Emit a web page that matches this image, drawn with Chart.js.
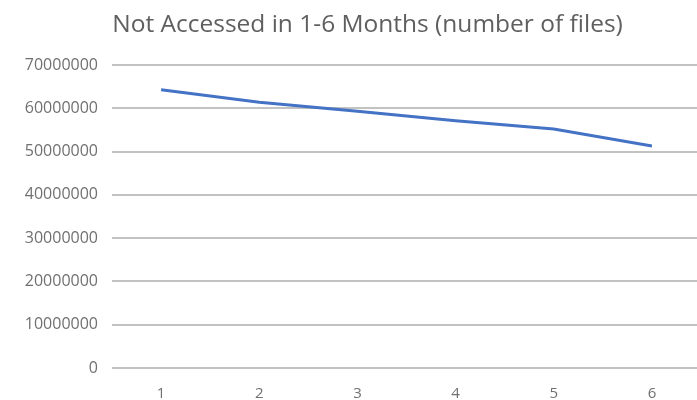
<!DOCTYPE html>
<html>
<head>
<meta charset="utf-8">
<script src="https://cdn.jsdelivr.net/npm/chart.js@4"></script>
<style>
  html, body { margin: 0; padding: 0; background: #ffffff; overflow: hidden; }
  #wrap { width: 735px; height: 410px; }
</style>
</head>
<body>
<div id="wrap"><canvas id="chart" width="735" height="410"></canvas></div>
<script>
// Months since last access
const months = ['1', '2', '3', '4', '5', '6'];
// Files not accessed within that many months
const filesNotAccessed = [64300000, 61400000, 59300000, 57100000, 55200000, 51300000];
// Value-axis labels, bottom to top
const yTickLabels = ['0', '10000000', '20000000', '30000000', '40000000', '50000000', '60000000', '70000000'];

const textGrey = '#707070';
const gridGrey = '#c2c2c2';

new Chart(document.getElementById('chart'), {
  type: 'line',
  data: {
    labels: months,
    datasets: [{
      data: filesNotAccessed,
      borderColor: '#4472c4',
      backgroundColor: '#4472c4',
      borderWidth: 3,
      pointRadius: 0,
      pointHoverRadius: 0,
      tension: 0,
      fill: false
    }]
  },
  options: {
    responsive: false,
    animation: false,
    layout: { padding: 0 },
    plugins: {
      legend: { display: false },
      tooltip: { enabled: false },
      title: {
        display: true,
        text: 'Not Accessed in 1-6 Months (number of files)',
        color: '#5f5f5f',
        font: { family: '"Open Sans", sans-serif', size: 24.5, weight: 'normal', lineHeight: 1.2 },
        padding: { top: 10, bottom: 25.6 }
      }
    },
    scales: {
      x: {
        offset: true,
        grid: { display: false, drawTicks: false },
        border: { display: false },
        ticks: {
          color: textGrey,
          font: { family: '"Open Sans", sans-serif', size: 15 },
          padding: 17,
          maxRotation: 0
        },
        afterFit: (s) => { s.height = 42; }
      },
      y: {
        min: 0,
        max: 70000000,
        grid: { color: gridGrey, lineWidth: 2, drawTicks: false },
        border: { display: false },
        ticks: {
          stepSize: 10000000,
          color: textGrey,
          font: { family: '"Open Sans", sans-serif', size: 16 },
          padding: 14,
          callback: (v, i) => yTickLabels[i]
        },
        afterFit: (s) => { s.width = 112; }
      },
      yRight: {
        position: 'right',
        display: true,
        grid: { display: false, drawTicks: false },
        border: { display: false },
        ticks: { display: false },
        afterFit: (s) => { s.width = 34; }
      }
    }
  }
});
</script>
</body>
</html>
